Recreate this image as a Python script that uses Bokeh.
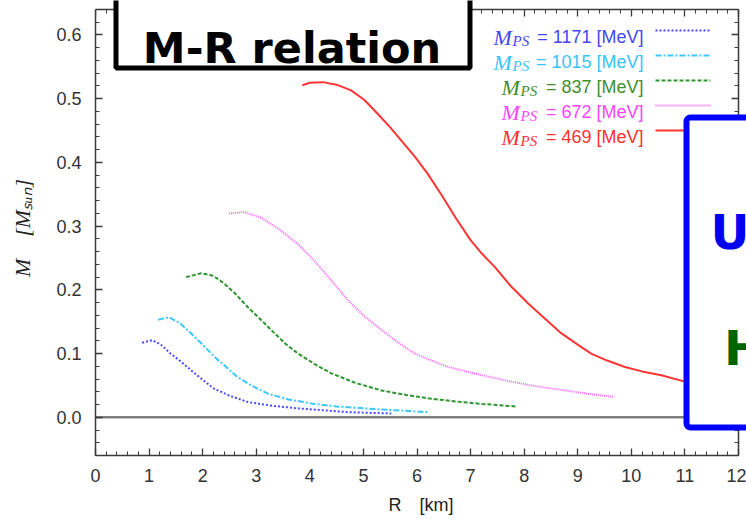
import math
from bokeh.plotting import figure
from bokeh.models import (Label, BoxAnnotation, Span, LinearAxis, SingleIntervalTicker,
                          NumeralTickFormatter, CustomJSTickFormatter, Range1d)
from bokeh.embed import file_html
from bokeh.resources import INLINE

# ---------------- data ----------------
R_1171 = [0.87, 1.06, 1.22, 1.40, 1.60, 1.78, 2.00, 2.21, 2.50, 2.84, 3.30, 3.78, 4.25, 4.71, 5.10, 5.52]
M_1171 = [0.117, 0.121, 0.114, 0.100, 0.087, 0.074, 0.059, 0.045, 0.034, 0.024, 0.018, 0.014, 0.011, 0.008, 0.007, 0.006]

R_1015 = [1.17, 1.37, 1.57, 1.78, 2.00, 2.22, 2.45, 2.65, 2.95, 3.22, 3.60, 4.08, 4.50, 5.02, 5.60, 6.21]
M_1015 = [0.153, 0.157, 0.148, 0.132, 0.114, 0.095, 0.078, 0.063, 0.048, 0.037, 0.028, 0.021, 0.017, 0.014, 0.011, 0.008]

R_837 = [1.69, 1.97, 2.20, 2.40, 2.62, 2.84, 3.10, 3.34, 3.55, 3.78, 4.10, 4.40, 4.85, 5.34, 5.80, 6.27, 6.82, 7.21, 7.85]
M_837 = [0.220, 0.226, 0.222, 0.210, 0.193, 0.173, 0.152, 0.132, 0.115, 0.100, 0.083, 0.069, 0.054, 0.042, 0.035, 0.029, 0.024, 0.021, 0.017]

R_672 = [2.49, 2.77, 3.10, 3.46, 3.80, 4.08, 4.40, 4.71, 5.00, 5.34, 5.65, 5.96, 6.30, 6.58, 6.82, 7.21, 7.76, 8.20, 8.69, 9.20, 9.66]
M_672 = [0.320, 0.322, 0.313, 0.293, 0.270, 0.246, 0.215, 0.184, 0.160, 0.137, 0.117, 0.100, 0.088, 0.079, 0.074, 0.066, 0.056, 0.049, 0.043, 0.037, 0.032]

R_469 = [3.86, 4.00, 4.24, 4.50, 4.77, 5.02, 5.27, 5.50, 5.70, 5.96, 6.20, 6.45, 6.73, 7.00, 7.21, 7.45,
         7.75, 8.07, 8.40, 8.69, 9.00, 9.25, 9.55, 9.88, 10.20, 10.56, 11.00, 11.40]
M_469 = [0.521, 0.525, 0.526, 0.522, 0.513, 0.498, 0.476, 0.455, 0.435, 0.409, 0.382, 0.350, 0.312, 0.278,
         0.257, 0.236, 0.206, 0.179, 0.154, 0.132, 0.114, 0.100, 0.089, 0.079, 0.072, 0.066, 0.056, 0.049]

mps_labels = ["1171", "1015", "837", "672", "469"]
series_R = [R_1171, R_1015, R_837, R_672, R_469]
series_M = [M_1171, M_1015, M_837, M_672, M_469]
line_colors = ["#4a4aff", "#3cc8ff", "#2e962e", "#ff66ff", "#ff3535"]
text_colors = ["#4646f0", "#38c4f8", "#3f8f2a", "#ff44ff", "#ff3030"]
line_dashes = ["2 2", "6 2 2 2", "4 2", "1 1", "solid"]

x_title = "R\u2002\u2002[km]"
y_title = "M\u2002\u2002[M\u209b\u1d64\u2099]"

# ---------------- layout ----------------
W, H = 746, 519
AX_L, AX_R, AX_T, AX_B = 95, 738, 9, 455      # where the axis box is drawn
XA, XB, YA, YB = 0.0, 12.0, -0.06, 0.64        # axis box limits (data)
KX = (AX_R - AX_L) / (XB - XA)
KY = (AX_B - AX_T) / (YB - YA)
# plot frame is widened to the canvas' top and right edges so overlays are not cut
X_END = XB + (W - AX_R) / KX
Y_END = YB + AX_T / KY


def X(px):
    return XA + (px - AX_L) / KX


def Y(py):
    return YB - (py - AX_T) / KY


p = figure(width=W, height=H, x_range=Range1d(XA, X_END), y_range=Range1d(YA, Y_END),
           output_backend="svg", toolbar_location=None,
           min_border_left=AX_L, min_border_right=0, min_border_top=0, min_border_bottom=H - AX_B)
p.grid.visible = False
p.outline_line_color = None
p.background_fill_color = "white"
p.border_fill_color = "white"

TICK_COLOR = "#3a3a3a"


def style_axis(ax):
    ax.major_tick_in = 7
    ax.major_tick_out = 0
    ax.minor_tick_in = 4
    ax.minor_tick_out = 0
    ax.axis_line_color = TICK_COLOR
    ax.axis_line_width = 1.5
    ax.major_tick_line_color = TICK_COLOR
    ax.minor_tick_line_color = TICK_COLOR
    ax.major_tick_line_width = 1.3
    ax.minor_tick_line_width = 1.0


xax, yax = p.xaxis[0], p.yaxis[0]
for ax in (xax, yax):
    style_axis(ax)
    ax.major_label_text_font = "Liberation Sans"
    ax.major_label_text_font_size = "18px"
    ax.major_label_text_color = "#333333"

xax.ticker = SingleIntervalTicker(interval=1, num_minor_ticks=5)
yax.ticker = SingleIntervalTicker(interval=0.1, num_minor_ticks=5)
yax.formatter = NumeralTickFormatter(format="0.0")
xax.bounds = (XA, XB)
yax.bounds = (YA, YB)
xax.major_label_standoff = 13
yax.major_label_standoff = 14

xax.axis_label = x_title
xax.axis_label_text_font = "Liberation Sans"
xax.axis_label_text_font_style = "normal"
xax.axis_label_text_font_size = "18px"
xax.axis_label_text_color = "#222222"
xax.axis_label_standoff = 10

yax.axis_label = y_title
yax.axis_label_text_font = "Liberation Serif"
yax.axis_label_text_font_style = "italic"
yax.axis_label_text_font_size = "22px"
yax.axis_label_text_color = "#222222"
yax.axis_label_standoff = 18

blank = CustomJSTickFormatter(code="return ''")
top_ax = LinearAxis(ticker=SingleIntervalTicker(interval=1, num_minor_ticks=5), formatter=blank,
                    fixed_location=YB, bounds=(XA, XB))
right_ax = LinearAxis(ticker=SingleIntervalTicker(interval=0.1, num_minor_ticks=5), formatter=blank,
                      fixed_location=XB, bounds=(YA, YB))
for ax in (top_ax, right_ax):
    style_axis(ax)
    ax.major_label_standoff = 0
    ax.major_label_text_font_size = "1px"
p.add_layout(top_ax, "above")
p.add_layout(right_ax, "right")

# zero line
p.add_layout(Span(location=0, dimension="width", line_color="#808080", line_width=2.5, level="underlay"))

# curves
for R, M, c, d in zip(series_R, series_M, line_colors, line_dashes):
    p.line(R, M, line_color=c, line_width=2, line_dash=d)

# legend (label on the left, key line on the right)
for i, (lab, tc, lc, d) in enumerate(zip(mps_labels, text_colors, line_colors, line_dashes)):
    base = 36.5 + 25 * i
    start = 493 if len(lab) == 4 else 501
    p.add_layout(Label(x=X(start), y=Y(base), text="M", text_font="Liberation Serif",
                       text_font_style="italic", text_font_size="22px", text_color=tc,
                       text_align="left", text_baseline="alphabetic"))
    p.add_layout(Label(x=X(start + 19), y=Y(base + 3.5), text="PS", text_font="Liberation Serif",
                       text_font_style="italic", text_font_size="15px", text_color=tc,
                       text_align="left", text_baseline="alphabetic"))
    p.add_layout(Label(x=X(643), y=Y(base), text="= " + lab + " [MeV]", text_font="Liberation Sans",
                       text_font_size="18px", text_color=tc,
                       text_align="right", text_baseline="alphabetic"))
    p.line([X(655), X(710)], [Y(base - 6.5), Y(base - 6.5)], line_color=lc, line_width=2, line_dash=d)

# "M-R relation" box
p.add_layout(BoxAnnotation(left=X(115.5), right=X(469.5), bottom=Y(67.5), top=Y(-20),
                           fill_color="white", fill_alpha=1.0, line_color="black", line_width=5,
                           line_alpha=1.0, level="overlay"))
p.add_layout(Label(x=X(291.5), y=Y(47), text="M-R relation", text_font="DejaVu Sans",
                   text_font_style="bold", text_font_size="43px", text_color="black",
                   text_align="center", text_baseline="alphabetic", level="overlay"))

# blue box at the right
p.add_layout(BoxAnnotation(left=X(686), right=X(820), bottom=Y(427), top=Y(117),
                           fill_color="white", fill_alpha=1.0, line_color="#0000ff", line_width=6,
                           line_alpha=1.0, border_radius=4, level="overlay"))
p.add_layout(Label(x=X(710), y=Y(231), text="U", text_font="DejaVu Sans", text_font_style="bold",
                   text_font_size="48px", text_color="#0000f0", text_align="left", text_baseline="alphabetic",
                   level="overlay"))
p.add_layout(Label(x=X(723.5), y=Y(347), text="H", text_font="DejaVu Sans", text_font_style="bold",
                   text_font_size="48px", text_color="#006400", text_align="left", text_baseline="alphabetic",
                   level="overlay"))

open("out.html", "w").write(file_html(p, INLINE))
